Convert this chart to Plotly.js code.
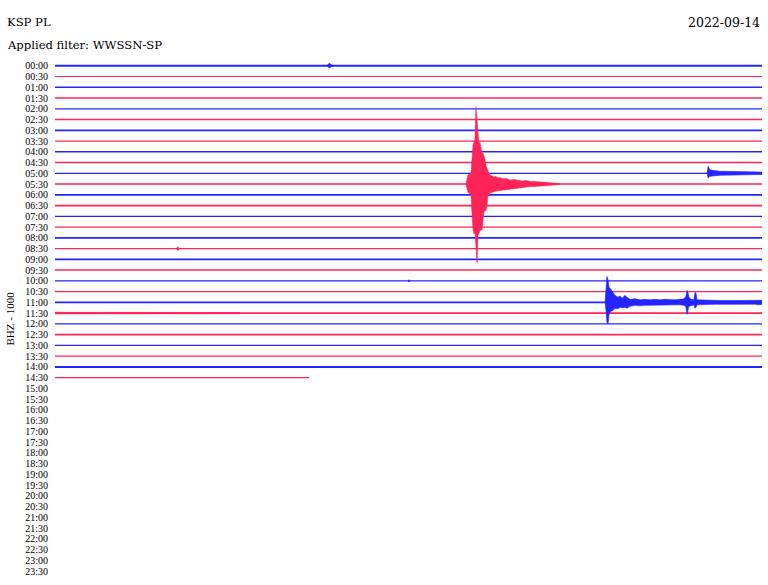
<!DOCTYPE html>
<html>
<head>
<meta charset="utf-8">
<script src="https://cdn.plot.ly/plotly-3.0.1.min.js"></script>
<style>html,body{margin:0;padding:0;background:#fff;}#chart{width:768px;height:585px;}</style>
</head>
<body>
<div id="chart"></div>
<script>
// ---------- DATA ----------
const station = "KSP PL";
const filterText = "Applied filter: WWSSN-SP";
const dateText = "2022-09-14";
const channelLabel = "BHZ - 1000";

const rowLabels = ["00:00","00:30","01:00","01:30","02:00","02:30","03:00","03:30","04:00","04:30",
  "05:00","05:30","06:00","06:30","07:00","07:30","08:00","08:30","09:00","09:30",
  "10:00","10:30","11:00","11:30","12:00","12:30","13:00","13:30","14:00","14:30",
  "15:00","15:30","16:00","16:30","17:00","17:30","18:00","18:30","19:00","19:30",
  "20:00","20:30","21:00","21:30","22:00","22:30","23:00","23:30"];

// background noise level of each recorded row (amplitude units)
const rowNoise = [1.5,0.5,1.2,1.2,0.6,1.0,1.5,0.5,1.0,1.2,
  0.5,1.2,1.2,1.2,0.5,0.8,1.2,0.6,1.5,1.0,
  0.5,0.8,1.5,1.2,0.8,1.2,0.6,0.8,1.8,0.5];
const lastRowEndMin = 10.78;     // data ends in row 14:30
const ampPerRow = 10.75;         // amplitude units per row spacing

// Large earthquake, row 05:30
const quakeRow = 11;
const quakeT  = [17.44,17.48,17.52,17.57,17.61,17.65,17.69,17.74,17.78,17.82,17.86,17.91,17.95,17.99,18.03,18.08,18.12,18.16,18.20,18.25,18.29,18.33,18.37,18.42,18.46,18.54,18.63,18.71,18.80,18.88,19.01,19.14,19.31,19.48,19.65,19.82,19.99,20.16,20.37,20.58,20.79,21.00,21.22,21.43];
const quakeUp = [0,4,9,10,9,11,25,39,42,45,77,60,44,40,42,36,30,31,28,24,18,15,12,10,9,8,7,7.5,6,6.5,5,5.5,4,4.5,3.5,3,3.5,2.5,2.5,2,1.8,1.5,1,0.5];
const quakeDn = [0,4,8,9,10,9,28,46,50,48,58,79,51,49,47,45,46,36,28,26,27,20,12,10,9,8,7.5,7,6,6,5.5,5,4.5,4,3.5,3.5,3,2.5,2.5,2,1.8,1.5,1,0.5];

// Regional event, row 11:00
const event2Row = 22;
const event2T  = [23.34,23.38,23.42,23.47,23.51,23.59,23.68,23.76,23.89,23.97,24.06,24.19,24.27,24.40,24.61,24.82,25.03,25.25,25.46,25.67,25.88,26.10,26.31,26.52,26.69,26.77,26.82,26.86,26.90,26.99,27.11,27.16,27.20,27.24,27.58,28.01,28.43,28.85,29.28,29.70,29.87,30.00];
const event2Up = [0,10,26,22,15,13,9,7,5,6.5,4,7,5,3,3.5,2.5,3,2.5,3,2.5,3,2.5,2.5,3,3.5,6,12,10,5,3,2.5,10,9,2.5,2,2,1.8,2,1.8,2,2.5,2];
const event2Dn = [0,8,20,21,12,9,8,6,6.5,5,5.5,5,6,4,3,3.5,3,2.5,3,2.5,2.5,3,2.5,2.5,3,4.5,12,8,4,3,2.5,6,5,2.5,2,1.8,2,1.8,2,1.8,2.5,2];

// Small event, row 05:00
const event3Row = 10;
const event3T  = [27.67,27.71,27.75,27.79,27.88,28.01,28.22,28.43,28.64,29.07,29.49,30.00];
const event3Up = [0,7,5,3.5,3,2.5,2,2,1.8,1.5,1.5,1.2];
const event3Dn = [0,4.5,4,3,3,2.5,2,1.8,1.8,1.5,1.3,1.2];

// Small blips
const blipRows = [0, 17, 20];
const blipT  = [[11.54,11.63,11.71,11.80],[5.15,5.22,5.28],[14.98,15.02,15.06]];
const blipUp = [[0,2.5,1.2,0],[0,1.8,0],[0,1.2,0]];
const blipDn = [[0,2,1.2,0],[0,1.8,0],[0,1.2,0]];

// Noisy segment, row 11:30
const noisyRow = 23;
const noisyT  = [0,2,4,6,7.85];
const noisyUp = [0.8,0.9,0.7,0.8,0.6];
const noisyDn = [0.8,0.8,0.8,0.7,0.6];

// ---------- DRAW ----------
const BLUE = "#2424ff", RED = "#ff2458";
const colorOf = r => (r % 2 === 0 ? BLUE : RED);
const traces = [];

for (let r = 0; r < rowNoise.length; r++) {
  const end = (r === rowNoise.length - 1) ? lastRowEndMin : 30;
  traces.push({
    x: [0, end], y: [-r, -r], mode: "lines", hoverinfo: "skip",
    line: {color: colorOf(r), width: 0.9 + rowNoise[r] * 0.6}
  });
}

function envelope(row, t, up, dn) {
  const xs = t.concat(t.slice().reverse());
  const ys = up.map(v => -row + v / ampPerRow)
    .concat(dn.slice().reverse().map(v => -row - v / ampPerRow));
  traces.push({
    x: xs, y: ys, mode: "lines", fill: "toself", hoverinfo: "skip",
    fillcolor: colorOf(row), line: {color: colorOf(row), width: 0.6}
  });
}
envelope(noisyRow, noisyT, noisyUp, noisyDn);
envelope(event3Row, event3T, event3Up, event3Dn);
envelope(event2Row, event2T, event2Up, event2Dn);
envelope(quakeRow, quakeT, quakeUp, quakeDn);
blipRows.forEach((r, i) => envelope(r, blipT[i], blipUp[i], blipDn[i]));

const titleFont = {family: "DejaVu Serif", size: 11.6, color: "#000"};
const layout = {
  width: 768, height: 585,
  margin: {l: 55, r: 6, t: 55, b: 3, pad: 0},
  paper_bgcolor: "#ffffff", plot_bgcolor: "#ffffff",
  showlegend: false,
  xaxis: {range: [0, 30], showgrid: false, zeroline: false, showline: false,
          showticklabels: false, ticks: "", fixedrange: true},
  yaxis: {range: [-48, 1], showgrid: false, zeroline: false, showline: false,
          tickvals: rowLabels.map((_, i) => -i), ticktext: rowLabels,
          ticks: "", ticklabelstandoff: 6,
          tickfont: {family: "Liberation Serif", size: 10, color: "#000"}, fixedrange: true},
  annotations: [
    {text: station, xref: "paper", yref: "paper", x: 0, y: 1, xshift: -50, yshift: 33,
     xanchor: "left", yanchor: "middle", showarrow: false, font: titleFont},
    {text: filterText, xref: "paper", yref: "paper", x: 0, y: 1, xshift: -50, yshift: 10,
     xanchor: "left", yanchor: "middle", showarrow: false, font: titleFont},
    {text: dateText, xref: "paper", yref: "paper", x: 1, y: 1, xshift: 0, yshift: 33,
     xanchor: "right", yanchor: "middle", showarrow: false,
     font: {family: "DejaVu Serif", size: 12.5, color: "#000"}},
    {text: channelLabel, xref: "paper", yref: "paper", x: 0, y: 0.5, xshift: -46,
     xanchor: "center", yanchor: "middle", textangle: -90, showarrow: false,
     font: {family: "Liberation Serif", size: 11, color: "#000"}}
  ]
};

Plotly.newPlot("chart", traces, layout, {staticPlot: true, displayModeBar: false});
</script>
</body>
</html>
